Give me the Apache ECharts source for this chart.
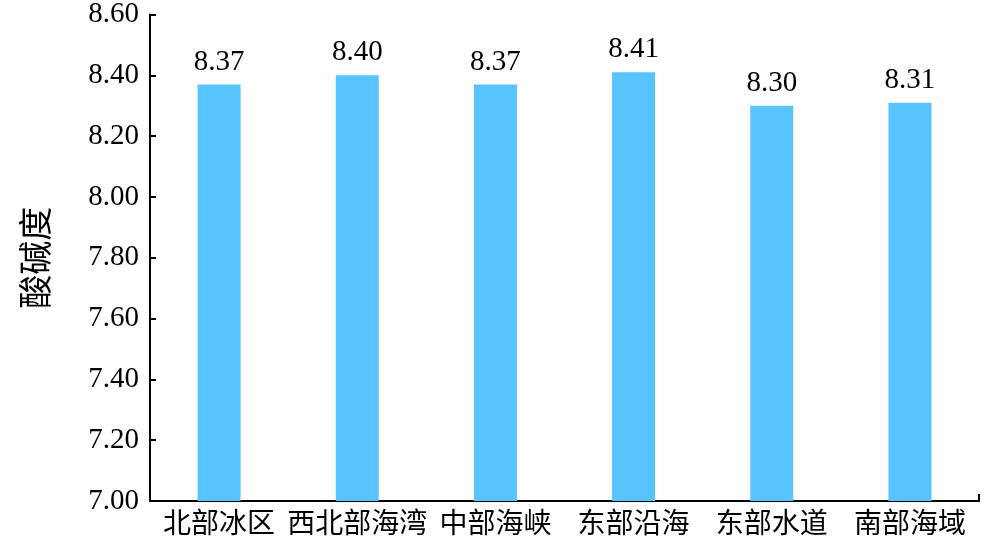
<!DOCTYPE html>
<html><head><meta charset="utf-8">
<script src="https://cdn.jsdelivr.net/npm/echarts@6/dist/echarts.min.js"></script>
<style>html,body{margin:0;padding:0;background:#fff}#c{width:1000px;height:553px}</style>
</head><body><div id="c"></div>
<script>
const categories = ['北部冰区','西北部海湾','中部海峡','东部沿海','东部水道','南部海域'];
const values = [8.37, 8.40, 8.37, 8.41, 8.30, 8.31];
const yTicks = { min: 7.0, max: 8.6, interval: 0.2 };
const yName = '酸碱度';
const FONT = '"Liberation Serif", "Times New Roman", "Noto Sans CJK SC", serif';
const chart = echarts.init(document.getElementById('c'));
chart.setOption({
  animation: false,
  grid: { left: 150, right: 21, top: 14, bottom: 52 },
  xAxis: [{
    type: 'category', data: categories,
    axisLine: { lineStyle: { color: '#000', width: 2 } },
    axisTick: { show: false },
    axisLabel: { color: '#000', fontSize: 28, fontFamily: FONT, margin: 11, interval: 0 }
  }, {
    type: 'value', min: 0, max: 1, interval: 1, position: 'bottom', show: true,
    axisLine: { show: true, onZero: false, lineStyle: { color: '#000', width: 2 } },
    axisTick: { show: true, inside: true, length: 7, lineStyle: { color: '#000', width: 2 } },
    axisLabel: { show: false },
    splitLine: { show: false }
  }],
  yAxis: {
    type: 'value', min: yTicks.min, max: yTicks.max, interval: yTicks.interval,
    name: yName, nameLocation: 'middle', nameGap: 94, nameRotate: 90,
    nameTextStyle: { color: '#000', fontSize: 34, fontFamily: FONT },
    axisLine: { show: true, lineStyle: { color: '#000', width: 2 } },
    axisTick: { show: true, inside: true, length: 6, lineStyle: { color: '#000', width: 2 } },
    splitLine: { show: false },
    axisLabel: { color: '#000', fontSize: 29, fontFamily: FONT, margin: 11,
      formatter: v => v.toFixed(2) }
  },
  series: [{
    type: 'bar', data: values, barWidth: 43, xAxisIndex: 0,
    itemStyle: { color: '#58C4FF' },
    label: { show: true, position: 'top', distance: 8, color: '#000', fontSize: 29, fontFamily: FONT,
      formatter: p => p.value.toFixed(2) }
  }]
});
</script></body></html>
